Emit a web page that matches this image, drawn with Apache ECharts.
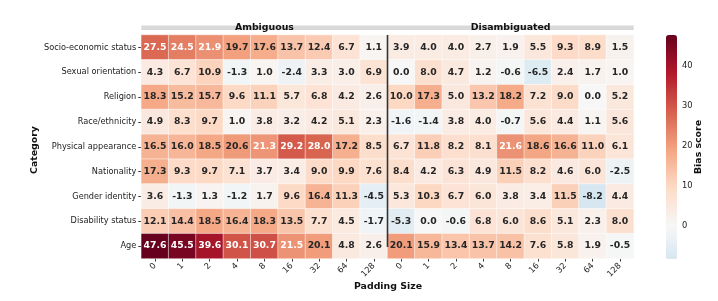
<!DOCTYPE html>
<html><head><meta charset="utf-8">
<script src="https://cdn.jsdelivr.net/npm/echarts@6/dist/echarts.min.js"></script>
<style>html,body{margin:0;padding:0;background:#fff}#c{width:718px;height:301px}</style>
</head><body><div id="c"></div>
<script>
const categories = ["Socio-economic status","Sexual orientation","Religion","Race/ethnicity","Physical appearance","Nationality","Gender identity","Disability status","Age"];
const paddingSizes = ["0","1","2","4","8","16","32","64","128"];
const groups = ["Ambiguous","Disambiguated"];
const ambiguous = [
  [27.5,24.5,21.9,19.7,17.6,13.7,12.4,6.7,1.1],
  [4.3,6.7,10.9,-1.3,1.0,-2.4,3.3,3.0,6.9],
  [18.3,15.2,15.7,9.6,11.1,5.7,6.8,4.2,2.6],
  [4.9,8.3,9.7,1.0,3.8,3.2,4.2,5.1,2.3],
  [16.5,16.0,18.5,20.6,21.3,29.2,28.0,17.2,8.5],
  [17.3,9.3,9.7,7.1,3.7,3.4,9.0,9.9,7.6],
  [3.6,-1.3,1.3,-1.2,1.7,9.6,16.4,11.3,-4.5],
  [12.1,14.4,18.5,16.4,18.3,13.5,7.7,4.5,-1.7],
  [47.6,45.5,39.6,30.1,30.7,21.5,20.1,4.8,2.6]
];
const disambiguated = [
  [3.9,4.0,4.0,2.7,1.9,5.5,9.3,8.9,1.5],
  [0.0,8.0,4.7,1.2,-0.6,-6.5,2.4,1.7,1.0],
  [10.0,17.3,5.0,13.2,18.2,7.2,9.0,0.0,5.2],
  [-1.6,-1.4,3.8,4.0,-0.7,5.6,4.4,1.1,5.6],
  [6.7,11.8,8.2,8.1,21.6,18.6,16.6,11.0,6.1],
  [8.4,4.2,6.3,4.9,11.5,8.2,4.6,6.0,-2.5],
  [5.3,10.3,6.7,6.0,3.8,3.4,11.5,-8.2,4.4],
  [-5.3,0.0,-0.6,6.8,6.0,8.6,5.1,2.3,8.0],
  [20.1,15.9,13.4,13.7,14.2,7.6,5.8,1.9,-0.5]
];
const colorbarTicks = [0,10,20,30,40];

// build heatmap data
const xCats = [];
groups.forEach((g,gi)=>paddingSizes.forEach((p,pi)=>xCats.push(g+"|"+p)));
const data = [];
categories.forEach((c,ri)=>{
  ambiguous[ri].forEach((v,ci)=>data.push([ci, ri, v]));
  disambiguated[ri].forEach((v,ci)=>data.push([ci+9, ri, v]));
});
let all = [].concat(...ambiguous, ...disambiguated);
const vmin = Math.min(...all), vmax = Math.max(...all);

// RdBu_r colormap, centered at 0 like seaborn
const rdbu_r = ["#053061","#2166ac","#4393c3","#92c5de","#d1e5f0","#f7f7f7","#fddbc7","#f4a582","#d6604d","#b2182b","#67001f"];
function hex2rgb(h){return [parseInt(h.slice(1,3),16),parseInt(h.slice(3,5),16),parseInt(h.slice(5,7),16)];}
function cmap(t){
  const p = Math.max(0,Math.min(1,t))*10; const i = Math.min(9,Math.floor(p)); const f = p-i;
  const a = hex2rgb(rdbu_r[i]), b = hex2rgb(rdbu_r[i+1]);
  const c = a.map((x,k)=>Math.round(x+(b[k]-x)*f));
  return 'rgb('+c.join(',')+')';
}
const vrange = Math.max(vmax, -vmin);
const stops = [];
const N = 40;
for(let k=0;k<=N;k++){
  const v = vmin + (vmax-vmin)*k/N;
  stops.push(cmap((v + vrange)/(2*vrange)));
}

const GL = 141.3, GT = 35, GW = 492.4, GH = 223.5;
const chart = echarts.init(document.getElementById('c'), null, {renderer:'canvas'});
const lblFont = 'DejaVu Sans';
chart.setOption({
  animation:false,
  backgroundColor:'#fff',
  grid:[
    {left:GL, top:GT, width:GW, height:GH},
    {left:666, top:35, width:11, height:224}
  ],
  xAxis:[
    {type:'category', gridIndex:0, data:xCats,
     axisLine:{show:false}, splitLine:{show:false},
     axisTick:{show:true, alignWithLabel:true, length:3, lineStyle:{color:'#333'}},
     axisLabel:{rotate:45, fontFamily:lblFont, fontSize:8.3, color:'#222', margin:6, interval:0,
       formatter:(v)=>v.split('|')[1]}},
    {type:'value', gridIndex:1, show:false, min:0, max:1}
  ],
  yAxis:[
    {type:'category', gridIndex:0, data:categories, inverse:true,
     axisLine:{show:false}, splitLine:{show:false},
     axisTick:{show:true, alignWithLabel:true, length:3, lineStyle:{color:'#333'}},
     axisLabel:{fontFamily:lblFont, fontSize:8.2, color:'#222', margin:5, interval:0}},
    {type:'value', gridIndex:1, position:'right', min:vmin, max:vmax,
     axisLine:{show:false}, splitLine:{show:false},
     axisTick:{show:true, length:3, lineStyle:{color:'#333'}, customValues:colorbarTicks},
     axisLabel:{fontFamily:lblFont, fontSize:8.3, color:'#222', margin:5, customValues:colorbarTicks}}
  ],
  visualMap:{
    type:'continuous', seriesIndex:0, min:vmin, max:vmax, calculable:false,
    orient:'vertical', left:666, top:35, itemWidth:11, itemHeight:224, padding:0,
    text:null, showLabel:false, hoverLink:false,
    inRange:{color:stops}
  },
  series:[{
    type:'heatmap', xAxisIndex:0, yAxisIndex:0,
    data:data.map(d=>({value:d, label:{color: d[2]>21 ? '#ffffff' : '#262626'}})),
    itemStyle:{borderColor:'rgba(255,255,255,0.7)', borderWidth:0.7},
    label:{show:true, fontFamily:lblFont, fontWeight:'bold', fontSize:9.3,
      formatter:(p)=>p.value[2].toFixed(1)}
  }],
  graphic:[
    {type:'rect', shape:{x:GL, y:25.5, width:GW, height:4.5}, style:{fill:'#d9d9d9'}, z:1},
    {type:'text', x:GL+GW/4, y:27.5, style:{text:groups[0], font:'bold 9.4px "DejaVu Sans"', fill:'#111', align:'center', verticalAlign:'middle'}, z:2},
    {type:'text', x:GL+GW*3/4, y:27.5, style:{text:groups[1], font:'bold 9.4px "DejaVu Sans"', fill:'#111', align:'center', verticalAlign:'middle'}, z:2},
    {type:'line', shape:{x1:GL+GW/2, y1:35, x2:GL+GW/2, y2:247}, style:{stroke:'#333', lineWidth:1.6}, z:100},
    {type:'text', x:35, y:150, rotation:Math.PI/2, style:{text:'Category', font:'bold 9.4px "DejaVu Sans"', fill:'#111', align:'center', verticalAlign:'middle'}},
    {type:'text', x:388, y:287, style:{text:'Padding Size', font:'bold 9.4px "DejaVu Sans"', fill:'#111', align:'center', verticalAlign:'middle'}},
    {type:'text', x:699, y:147, rotation:Math.PI/2, style:{text:'Bias score', font:'bold 9.4px "DejaVu Sans"', fill:'#111', align:'center', verticalAlign:'middle'}}
  ]
});
</script></body></html>
